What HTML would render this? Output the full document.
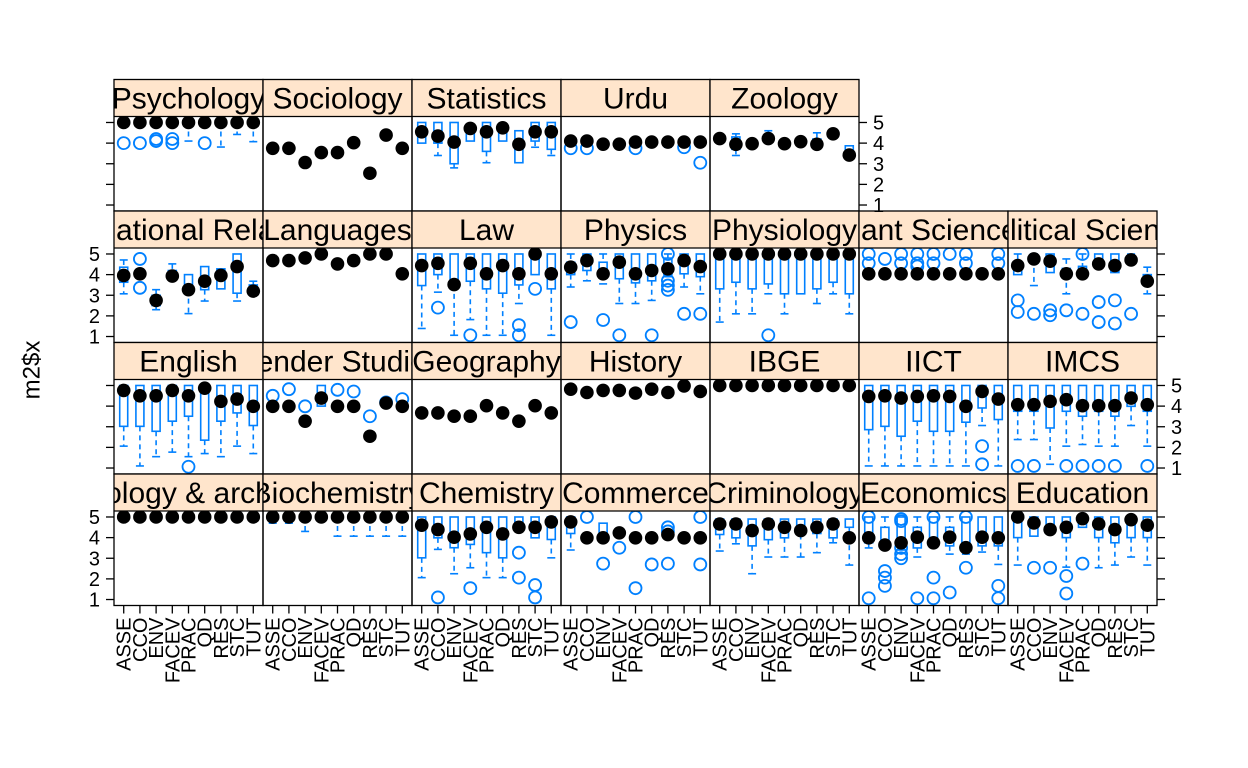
<!DOCTYPE html>
<html><head><meta charset="utf-8"><style>
html,body{margin:0;padding:0;background:#fff;}
svg{display:block;font-family:"Liberation Sans",sans-serif;}
</style></head><body>
<svg id="chart" width="1248" height="768" viewBox="0 0 1248 768" xmlns="http://www.w3.org/2000/svg">
<text x="32" y="370" font-size="24" text-anchor="middle" transform="rotate(-90 32 370)" dominant-baseline="central">m2$x</text>
<g id="layer"></g>
</svg>
<script>
const categories = ["ASSE","CCO","ENV","FACEV","PRAC","QD","RES","STC","TUT"];
const panelNames = ["Psychology","Sociology","Statistics","Urdu","Zoology",
 "International Relations","Languages","Law","Physics","Physiology","Plant Sciences","Political Science",
 "English","Gender Studies","Geography","History","IBGE","IICT","IMCS",
 "Anthropology & archaeology","Biochemistry","Chemistry","Commerce","Criminology","Economics","Education"];
const yTicks = [1,2,3,4,5];
const F5 = [5,5,5,5,5,5,5,5,5];
const medians = [
 F5,
 [3.75,3.75,3.06,3.54,3.54,4.02,2.54,4.39,3.75],
 [4.55,4.34,4.05,4.71,4.55,4.74,3.94,4.55,4.55],
 [4.1,4.1,3.95,3.95,4.05,4.05,4.05,4.05,4.05],
 [4.22,3.94,3.97,4.22,3.97,4.07,3.94,4.45,3.42],
 [3.96,4.04,2.75,3.93,3.27,3.68,3.96,4.39,3.2],
 [4.68,4.68,4.81,5,4.52,4.68,5,5,4.04],
 [4.44,4.55,3.52,4.55,4.04,4.44,4.04,5,4.04],
 [4.36,4.68,4.04,4.6,4.04,4.2,4.28,4.68,4.39],
 F5,
 [4.04,4.04,4.04,4.04,4.04,4.04,4.04,4.04,4.04],
 [4.44,4.76,4.65,4.04,4.04,4.52,4.44,4.71,3.68],
 [4.76,4.5,4.5,4.76,4.5,4.87,4.23,4.34,3.99],
 [3.99,3.99,3.27,4.39,3.99,3.99,2.54,4.15,3.99],
 [3.67,3.67,3.51,3.51,4.02,3.67,3.27,4.02,3.67],
 [4.82,4.66,4.76,4.76,4.63,4.82,4.66,4.98,4.71],
 F5,
 [4.47,4.5,4.39,4.47,4.5,4.47,3.99,4.71,4.34],
 [4.07,4.07,4.23,4.31,4.02,4.02,4.02,4.39,4.07],
 F5,
 F5,
 [4.6,4.39,4.02,4.18,4.5,4.18,4.5,4.5,4.76],
 [4.76,3.99,3.99,4.23,3.99,3.99,4.15,3.99,3.99],
 [4.66,4.66,4.34,4.66,4.5,4.34,4.5,4.66,3.99],
 [3.99,3.64,3.75,4.02,3.75,4.02,3.51,4.02,3.99],
 [5,4.71,4.39,4.5,4.92,4.66,4.39,4.87,4.6]
];
const upperQuartiles = [
 null,null,
 [5,5,5,4.8,5,4.8,4.6,5,5],
 null,
 [4.3,4.3,4.1,4.4,4.0,4.07,4.2,4.45,3.87],
 [4.36,4.04,3.0,4.2,4.0,4.39,4.28,5.0,3.5],
 null, F5,
 [4.6,5,4.6,5,5,5,4.8,5,5],
 F5, null,
 [4.5,4.9,5,4.3,4.4,5,5,4.9,4.0],
 F5,
 [3.99,3.99,3.27,5,3.99,3.99,2.54,4.15,3.99],
 null,null,null, F5, F5,
 null,null, F5,
 [5,4,4.7,4.23,3.99,3.99,4.15,3.99,3.99],
 [4.9,4.9,4.9,4.9,4.9,4.9,4.9,4.9,4.9],
 [5,4.5,5,4.5,5,4.5,5,5,5],
 F5
];
const lowerQuartiles = [
 null,null,
 [4,4,3,4.1,3.6,4.1,3.05,4.1,3.7],
 null,
 [4.22,3.7,3.8,4.22,3.97,3.9,3.8,4.45,3.42],
 [3.63,4.04,2.5,3.93,3.27,3.27,3.31,3.1,3.2],
 null,
 [3.47,4.0,3.5,3.68,3.31,3.1,3.5,4.0,3.31],
 [4.0,4.2,4.0,3.8,3.6,3.7,4.0,4.04,3.9],
 [3.31,3.63,3.31,3.55,3.07,3.07,3.31,3.63,3.07],
 null,
 [4.0,4.76,4.1,4.04,4.04,4.4,4.1,4.71,3.68],
 [3.02,3.02,2.78,3.27,3.51,2.35,3.27,3.67,3.06],
 [3.99,3.99,3.27,4,3.99,3.99,2.54,4.15,3.99],
 null,null,null,
 [2.86,3.02,2.54,3.27,2.78,2.78,3.22,3.91,3.35],
 [3.75,3.75,2.94,3.75,3.51,3.75,3.51,3.99,3.75],
 null,null,
 [3.02,3.99,3.51,3.67,3.27,3.02,4.5,3.99,3.91],
 [4.2,3.99,3.99,4.23,3.99,3.99,4.15,3.99,3.99],
 [4.15,3.99,3.6,3.9,3.99,4.15,4.2,3.99,4.5],
 [3.75,3.5,3.6,3.5,3.75,3.6,3.51,3.6,3.6],
 [4,4.07,4.2,4,4.5,4,3.75,4,4]
];
const whiskerHighs = [
 null,null,
 [5,5,5,4.8,5,4.8,4.6,5,5],
 null,
 [4.3,4.45,4.1,4.6,4,4.1,4.5,4.45,3.87],
 [4.71,4.04,3.27,4.52,4.0,4.39,4.28,5.0,3.68],
 null, F5, F5, F5, null,
 [5,5,5,4.76,5,5,5,5,4.36],
 F5,
 [3.99,3.99,3.27,5,3.99,3.99,2.54,4.15,3.99],
 null,null,null, F5, F5,
 null,null, F5,
 [5,3.99,4.7,4.23,3.99,3.99,4.15,3.99,3.99],
 [4.9,4.9,4.9,4.9,4.9,4.9,4.9,4.9,4.9],
 F5, F5
];
const whiskerLows = [
 [5,5,5,5,4.1,5,3.81,4.42,4.07],
 null,
 [4,3.4,2.8,4.1,3.05,4.1,3.05,3.8,3.4],
 [4.1,4.1,3.95,3.95,4.05,4.05,3.8,4.05,4.05],
 [4.22,3.4,3.8,4.22,3.97,3.9,3.8,4.45,3.3],
 [3.07,4.04,2.3,3.93,2.11,2.72,3.31,2.72,3.0],
 null,
 [1.39,3.15,1.06,1.82,1.06,1.06,2.6,4.0,1.06],
 [3.4,3.7,3.55,2.6,2.6,2.75,3.9,3.4,3.07],
 [1.7,2.1,2.1,3.07,2.1,3.07,2.6,3.07,2.1],
 null,
 [4.0,3.47,4.1,3.07,4.04,4.4,4.1,4.71,3.07],
 [2.06,1.1,1.55,1.77,1.55,1.7,1.55,2.06,1.7],
 [3.99,3.99,3.27,4,3.99,3.99,2.54,4.15,3.99],
 null,null,null,
 [1.1,1.1,1.1,1.1,1.1,1.1,1.1,3.06,1.1],
 [2.38,2.38,1.18,2.06,2.14,2.06,2.06,3.06,2.06],
 null,
 [4.7,4.7,4.3,5,4.07,4.07,4.07,4.07,4.07],
 [2.06,3.43,2.25,2.54,2.06,2.06,4.5,3.99,3.02],
 [3.4,3.99,3.99,4.23,3.99,3.99,4.15,3.99,3.99],
 [3.35,3.7,2.25,3.06,3.06,3.06,3.27,3.75,2.67],
 [3.5,3.5,3.4,3.06,3.51,3.2,3.2,3.3,2.7],
 [2.67,4.07,4.2,2.57,4.5,2.54,2.67,3.06,2.67]
];
const outliers = [
 [[0,4],[1,4],[2,4.2],[2,4.1],[3,4.2],[3,4.0],[5,4.0]],
 [],[],
 [[0,3.75],[1,3.75],[4,3.75],[7,3.8],[8,3.05]],
 [],
 [[1,4.76],[1,3.36]],
 [],
 [[1,2.4],[3,1.06],[6,1.55],[6,1.06],[7,3.31]],
 [[0,1.7],[2,1.8],[3,1.06],[5,1.06],[6,5],[6,3.7],[6,3.47],[6,3.26],[7,2.1],[8,2.1]],
 [[3,1.06]],
 [[0,5],[0,4.55],[1,4.76],[2,5],[2,4.55],[3,5],[3,4.55],[3,4.4],[4,5],[4,4.55],[5,5],[6,5],[6,4.55],[8,5],[8,4.55]],
 [[0,2.75],[0,2.19],[1,2.1],[2,2.27],[2,2.03],[3,2.27],[4,2.1],[4,5],[5,2.67],[5,1.7],[6,2.75],[6,1.63],[7,2.1]],
 [[4,1.06]],
 [[0,4.5],[1,4.82],[2,3.99],[4,4.79],[5,4.71],[6,3.51],[7,4.18],[8,4.34]],
 [],[],[],
 [[7,2.06],[7,1.18]],
 [[0,1.1],[1,1.1],[3,1.1],[4,1.1],[5,1.1],[6,1.1],[8,1.1]],
 [],[],
 [[1,1.1],[3,1.55],[6,3.27],[6,2.06],[7,1.7],[7,1.1]],
 [[1,5],[2,2.74],[3,3.51],[4,5],[4,1.55],[5,2.7],[6,2.74],[6,4.5],[6,4.3],[8,5],[8,2.7]],
 [],
 [[0,1.06],[0,5],[1,2.38],[1,2.06],[1,1.66],[2,4.9],[2,4.8],[2,3.5],[2,3.2],[2,3.0],[3,1.06],[4,5],[4,2.06],[4,1.06],[5,1.34],[6,5],[6,2.54],[8,1.66],[8,1.06]],
 [[1,2.54],[2,2.54],[3,2.14],[3,1.29],[4,2.74]]
];

const NS = "http://www.w3.org/2000/svg";
const layer = document.getElementById("layer");
const BLUE = "#0080ff";
const PW = 149, SH = 37, PH = 94.5, X0 = 114, Y0 = 79.5, PERIOD = 131.5;
function mk(tag, attrs, parent){ const e=document.createElementNS(NS,tag); for(const k in attrs) e.setAttribute(k,attrs[k]); (parent||layer).appendChild(e); return e; }
function panelPos(p){ if(p<5) return {r:0,c:p}; const q=p-5; return {r:1+Math.floor(q/7), c:q%7}; }
function stripTop(r){ return Y0 + r*PERIOD; }
function panelTop(r){ return stripTop(r)+SH; }
function yScale(v,r){ return panelTop(r) + (5.29 - v)/4.58*PH; }
function xScale(i,c){ return X0 + c*PW + (i+0.6)*PW/9.2; }

panelNames.forEach((name,p)=>{
  const {r,c} = panelPos(p);
  const left = X0 + c*PW, st = stripTop(r), pt = panelTop(r);
  const g = mk("g",{});
  
  
  const cpS = mk("clipPath",{id:"cs"+p},g); mk("rect",{x:left,y:st,width:PW,height:SH},cpS);
  const cpP = mk("clipPath",{id:"cp"+p},g); mk("rect",{x:left,y:pt,width:PW,height:PH},cpP);
  const strip = mk("rect",{x:left,y:st,width:PW,height:SH,fill:"#ffe5cc",stroke:"none"},g);
  
  
  const t = mk("text",{x:left+PW/2,y:st+29,"font-size":"30","text-anchor":"middle","clip-path":"url(#cs"+p+")"},g);
  t.textContent = name;
  
  
  const body = mk("g",{"clip-path":"url(#cp"+p+")"},g);
  const med = medians[p];
  const q3 = upperQuartiles[p]||med, q1 = lowerQuartiles[p]||med;
  const hi = whiskerHighs[p]||q3, lo = whiskerLows[p]||q1;
  for(let i=0;i<categories.length;i++){
    const x = xScale(i,c);
    const yq3=yScale(q3[i],r), yq1=yScale(q1[i],r), yh=yScale(hi[i],r), yl=yScale(lo[i],r);
    if(hi[i]>q3[i]+0.01){ mk("line",{x1:x,x2:x,y1:yh,y2:yq3,stroke:BLUE,"stroke-width":1.6,"stroke-dasharray":"5,4"},body); mk("line",{x1:x-4,x2:x+4,y1:yh,y2:yh,stroke:BLUE,"stroke-width":1.6},body); }
    if(lo[i]<q1[i]-0.01){ mk("line",{x1:x,x2:x,y1:yq1,y2:yl,stroke:BLUE,"stroke-width":1.6,"stroke-dasharray":"5,4"},body); mk("line",{x1:x-4,x2:x+4,y1:yl,y2:yl,stroke:BLUE,"stroke-width":1.6},body); }
    if(q3[i]-q1[i]>0.01){
      const b = mk("rect",{x:x-4,y:yq3,width:8,height:yq1-yq3,fill:"none",stroke:BLUE,"stroke-width":1.6},body);
      
      
    }
  }
  outliers[p].forEach(o=>{
    const ci = mk("circle",{cx:xScale(o[0],c),cy:yScale(o[1],r),r:6,fill:"none",stroke:BLUE,"stroke-width":1.8},body);
    
    
  });
  for(let i=0;i<categories.length;i++){
    const d = mk("circle",{cx:xScale(i,c),cy:yScale(med[i],r),r:6.8,fill:"#000"},body);
    
    
  }
  mk("rect",{x:left,y:st,width:PW,height:SH+PH,fill:"none",stroke:"#000","stroke-width":1.3},g);
  mk("line",{x1:left,x2:left+PW,y1:pt,y2:pt,stroke:"#000","stroke-width":1.3},g);
});

const rowCols = [5,7,7,7];
for(let r=0;r<4;r++){
  const rightX = X0 + rowCols[r]*PW;
  const labelsRight = (r%2===0);
  yTicks.forEach(v=>{
    const y = yScale(v,r);
    mk("line",{x1:X0-8,x2:X0,y1:y,y2:y,stroke:"#000","stroke-width":1.3});
    mk("line",{x1:rightX,x2:rightX+8,y1:y,y2:y,stroke:"#000","stroke-width":1.3});
    const t = labelsRight ? mk("text",{x:rightX+14,y:y+7,"font-size":"20","text-anchor":"start"})
                          : mk("text",{x:X0-14,y:y+7,"font-size":"20","text-anchor":"end"});
    t.textContent = v;
    
    
  });
}
const bottom = panelTop(3)+PH;
for(let c=0;c<7;c++){
  categories.forEach((cat,i)=>{
    const x = xScale(i,c);
    mk("line",{x1:x,x2:x,y1:bottom,y2:bottom+8,stroke:"#000","stroke-width":1.3});
    const t = mk("text",{x:x+7,y:bottom+12,"font-size":"20","text-anchor":"end",transform:"rotate(-90 "+(x+7)+" "+(bottom+12)+")"});
    t.textContent = cat;
    
    
  });
}
</script>
</body></html>
